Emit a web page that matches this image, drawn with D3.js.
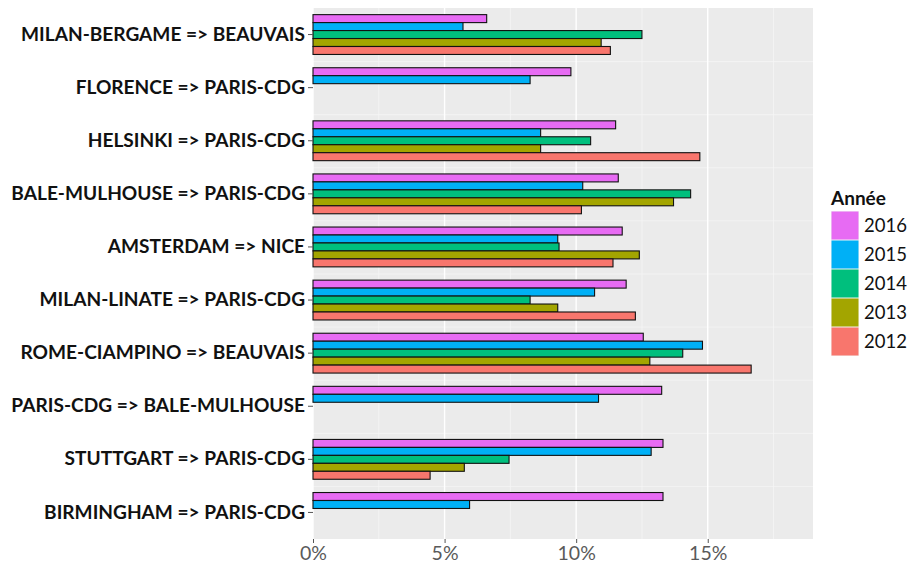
<!DOCTYPE html>
<html>
<head>
<meta charset="utf-8">
<script src="https://cdn.jsdelivr.net/npm/d3@7"></script>
<style>
  body { margin: 0; background: #fff; }
  svg { font-family: Lato, "Open Sans", sans-serif; }
</style>
</head>
<body>
<svg id="chart" width="921" height="563"></svg>
<script>
const routes = [
  "MILAN-BERGAME => BEAUVAIS",
  "FLORENCE => PARIS-CDG",
  "HELSINKI => PARIS-CDG",
  "BALE-MULHOUSE => PARIS-CDG",
  "AMSTERDAM => NICE",
  "MILAN-LINATE => PARIS-CDG",
  "ROME-CIAMPINO => BEAUVAIS",
  "PARIS-CDG => BALE-MULHOUSE",
  "STUTTGART => PARIS-CDG",
  "BIRMINGHAM => PARIS-CDG"
]
const years = ["2016", "2015", "2014", "2013", "2012"]
const yearColors = ["#E76BF3", "#00B0F6", "#00BF7D", "#A3A500", "#F8766D"]

// share in %, same order as routes, null = no data
const v2016 = [6.6, 9.8, 11.5, 11.6, 11.75, 11.9, 12.55, 13.25, 13.3, 13.3]
const v2015 = [5.7, 8.25, 8.65, 10.25, 9.3, 10.7, 14.8, 10.85, 12.85, 5.95]
const v2014 = [12.5, null, 10.55, 14.35, 9.35, 8.25, 14.05, null, 7.45, null]
const v2013 = [10.95, null, 8.65, 13.7, 12.4, 9.3, 12.8, null, 5.75, null]
const v2012 = [11.3, null, 14.7, 10.2, 11.4, 12.25, 16.65, null, 4.45, null]
const xTicks = [0, 5, 10, 15]
const xMinor = [2.5, 7.5, 12.5, 17.5]

const series = [v2016, v2015, v2014, v2013, v2012]
const rows = []
routes.forEach((r, i) => {
  years.forEach((y, j) => {
    if (series[j][i] != null) rows.push({route: r, year: y, value: series[j][i]})
  })
})

const margin = {top: 8, left: 313, width: 500, height: 531}
const svg = d3.select('#chart')
const g = svg.append('g').attr('transform', `translate(${margin.left},${margin.top})`)

const x = d3.scaleLinear().domain([0, 19]).range([0, margin.width])
const y = d3.scaleBand().domain(routes).range([0, margin.height])
const inner = d3.scaleBand().domain(years)
  .range([y.bandwidth() * 0.125, y.bandwidth() * 0.875])
const color = d3.scaleOrdinal(years, yearColors)

g.append('rect')
  .attr('width', margin.width)
  .attr('height', margin.height)
  .attr('fill', '#EBEBEB')

g.append('g').selectAll('line')
  .data(xMinor)
  .enter()
  .append('line')
  .attr('x1', d => x(d)).attr('x2', d => x(d))
  .attr('y1', 0).attr('y2', margin.height)
  .attr('stroke', '#F5F5F5')
  .attr('stroke-width', 0.8)

// lines between the route groups
g.append('g').selectAll('line')
  .data(routes.slice(1))
  .enter()
  .append('line')
  .attr('x1', 0).attr('x2', margin.width)
  .attr('y1', d => y(d) + 0.5).attr('y2', d => y(d) + 0.5)
  .attr('stroke', '#F5F5F5')
  .attr('stroke-width', 0.8)

g.append('g').selectAll('line')
  .data(xTicks)
  .enter()
  .append('line')
  .attr('x1', d => x(d)).attr('x2', d => x(d))
  .attr('y1', 0).attr('y2', margin.height)
  .attr('stroke', '#fff')
  .attr('stroke-width', 1.4)

g.append('g').selectAll('rect')
  .data(rows)
  .enter()
  .append('rect')
  .attr('x', x(0))
  .attr('y', d => y(d.route) + inner(d.year))
  .attr('width', d => x(d.value) - x(0))
  .attr('height', inner.bandwidth())
  .attr('fill', d => color(d.year))
  .attr('stroke', '#111')
  .attr('stroke-width', 1.1)

const yAxis = g.append('g')
  .call(d3.axisLeft(y).tickSize(5).tickPadding(3))
yAxis.select('.domain').remove()
yAxis.selectAll('line').attr('stroke', '#555')
yAxis.selectAll('text')
  .attr('font-size', 19.1)
  .attr('font-weight', 'bold')
  .attr('fill', '#111')
  .attr('font-family', 'Lato, sans-serif')

const xAxis = g.append('g')
  .attr('transform', `translate(0,${margin.height})`)
  .call(d3.axisBottom(x).tickValues(xTicks).tickFormat(d => d + '%').tickSize(4).tickPadding(3))
xAxis.select('.domain').remove()
xAxis.selectAll('line').attr('stroke', '#555')
xAxis.selectAll('text')
  .attr('font-size', 19.5)
  .attr('fill', '#5a5a5a')
  .attr('font-family', 'Lato, sans-serif')

const legend = svg.append('g').attr('transform', 'translate(831,193)')
legend.append('text')
  .attr('x', 0).attr('y', 12)
  .attr('font-size', 19)
  .attr('font-weight', 'bold')
  .attr('fill', '#111')
  .text('Année')

const key = legend.selectAll('g.key')
  .data(years)
  .enter()
  .append('g')
  .attr('class', 'key')
  .attr('transform', (d, i) => `translate(0,${18 + i * 29})`)
key.append('rect')
  .attr('width', 28).attr('height', 29)
  .attr('fill', '#F2F2F2')
key.append('rect')
  .attr('x', 0.5).attr('y', 0.5)
  .attr('width', 27).attr('height', 28)
  .attr('fill', d => color(d))
key.append('text')
  .attr('x', 33).attr('y', 15)
  .attr('dy', '0.35em')
  .attr('font-size', 18.5)
  .attr('fill', '#111')
  .text(d => d)
</script>
</body>
</html>
